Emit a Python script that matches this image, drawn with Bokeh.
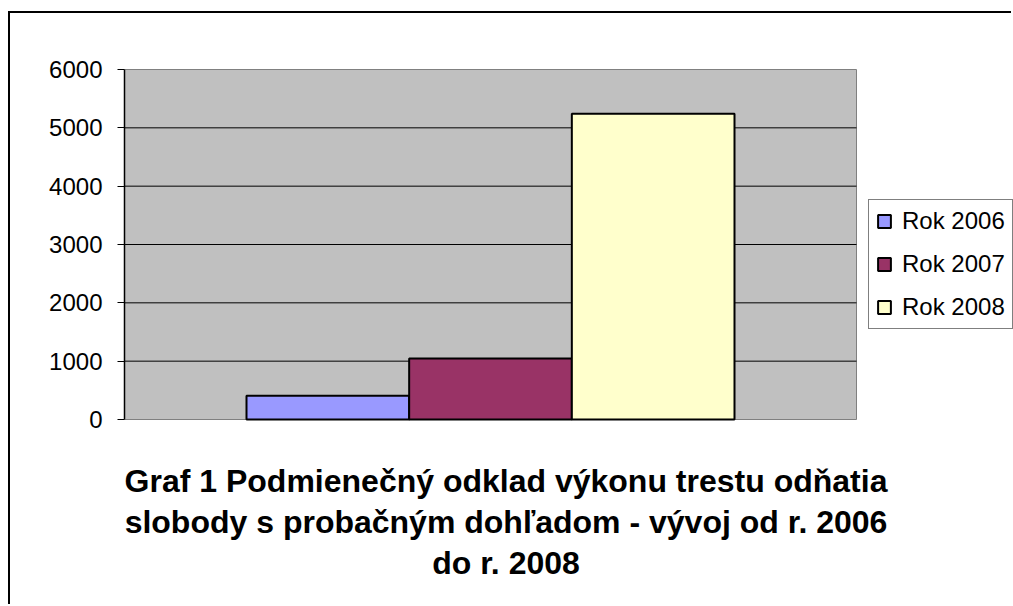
from bokeh.plotting import figure
from bokeh.models import Range1d, FixedTicker, Legend, LegendItem, ColumnDataSource
from bokeh.core.properties import value
from bokeh.embed import file_html
from bokeh.resources import INLINE

# ---- data ----
series = ["Rok 2006", "Rok 2007", "Rok 2008"]
values = [408, 1046, 5240]
colors = ["#9999FF", "#993366", "#FFFFCC"]
y_ticks = [0, 1000, 2000, 3000, 4000, 5000, 6000]
title_lines = [
    "Graf 1 Podmienečný odklad výkonu trestu odňatia",
    "slobody s probačným dohľadom - vývoj od r. 2006",
    "do r. 2008",
]

FONT = "Liberation Sans"

# ---- geometry (pixels) ----
W, H = 1003, 593          # canvas size (page origin at 10,13 because of border/margins)
FL = 114                  # frame left offset inside canvas
PLOT_W, PLOT_H = 732, 350 # grey plot area size
PLOT_TOP = 56             # grey plot area top inside canvas
ymin_v, ymax_v = y_ticks[0], y_ticks[-1]
upx = (ymax_v - ymin_v) / PLOT_H          # data units per pixel (y)
xpx = 1.0 / PLOT_W                        # data units per pixel (x)
y_top = ymax_v + PLOT_TOP * upx
y_bot = ymin_v - (H - PLOT_TOP - PLOT_H) * upx
x_right = (W - FL) * xpx

p = figure(width=W, height=H, output_backend="svg", toolbar_location=None,
           x_range=Range1d(0, x_right), y_range=Range1d(y_bot, y_top),
           x_axis_location=None,
           styles={"border-left": "2px solid #000", "border-top": "2px solid #000",
                   "margin-left": "8px", "margin-top": "11px"})
p.min_border_left = FL
p.min_border_right = 0
p.min_border_top = 0
p.min_border_bottom = 0
p.background_fill_color = "white"
p.border_fill_color = "white"
p.outline_line_color = None
p.xgrid.visible = False
p.ygrid.visible = False

# grey plot area
p.quad(left=[0], right=[1], bottom=[ymin_v], top=[ymax_v],
       fill_color="#C0C0C0", line_color="#808080", line_width=1)

# horizontal grid lines
inner = y_ticks[1:-1]
p.segment(x0=[0] * len(inner), x1=[1] * len(inner), y0=inner, y1=inner,
          line_color="black", line_width=1)

ya = p.yaxis[0]
ya.ticker = FixedTicker(ticks=y_ticks)
ya.bounds = (ymin_v, ymax_v)
ya.major_tick_out = 7
ya.major_tick_in = 0
ya.minor_tick_out = 0
ya.minor_tick_in = 0
ya.axis_line_color = "black"
ya.axis_line_width = 1.5
ya.major_tick_line_color = "black"
ya.major_label_text_font = FONT
ya.major_label_text_font_size = "24px"
ya.major_label_text_color = "black"
ya.major_label_standoff = 15

bar_w = 2 / 9
xs = [0.5 + (i - 1) * bar_w for i in range(len(series))]
items = []
for x, v, c, name in zip(xs, values, colors, series):
    src = ColumnDataSource(dict(x=[x], top=[v]))
    r = p.vbar(x="x", top="top", bottom=0, width=bar_w, source=src,
               fill_color=c, line_color="black", line_width=2)
    items.append(LegendItem(label=name, renderers=[r]))

# legend: left edge 744px right of plot-area left, top at page y=201
legend_h = 7 * 2 + 3 * 28 + 2 * 15
legend = Legend(items=items, location=(744, H - (201 - 13) - legend_h))
legend.label_text_font = FONT
legend.label_text_font_size = "24px"
legend.label_text_color = "black"
legend.glyph_width = 16
legend.glyph_height = 16
legend.label_height = 28
legend.label_standoff = 10
legend.spacing = 15
legend.padding = 7
legend.margin = 0
legend.border_line_color = "black"
legend.border_line_width = 1
legend.background_fill_color = "white"
legend.background_fill_alpha = 1
p.add_layout(legend, "center")

# chart title below the plot area
baselines_px = [61, 102, 143]
tsrc = ColumnDataSource(dict(
    x=[(505.5 - 124) * xpx] * len(title_lines),
    y=[ymin_v - b * upx for b in baselines_px],
    text=title_lines))
p.text(x="x", y="y", text="text", source=tsrc, text_align="center",
       text_baseline="alphabetic", text_font=value(FONT), text_font_style="bold",
       text_font_size="32px", text_color="black")

open("out.html", "w").write(file_html(p, INLINE))
